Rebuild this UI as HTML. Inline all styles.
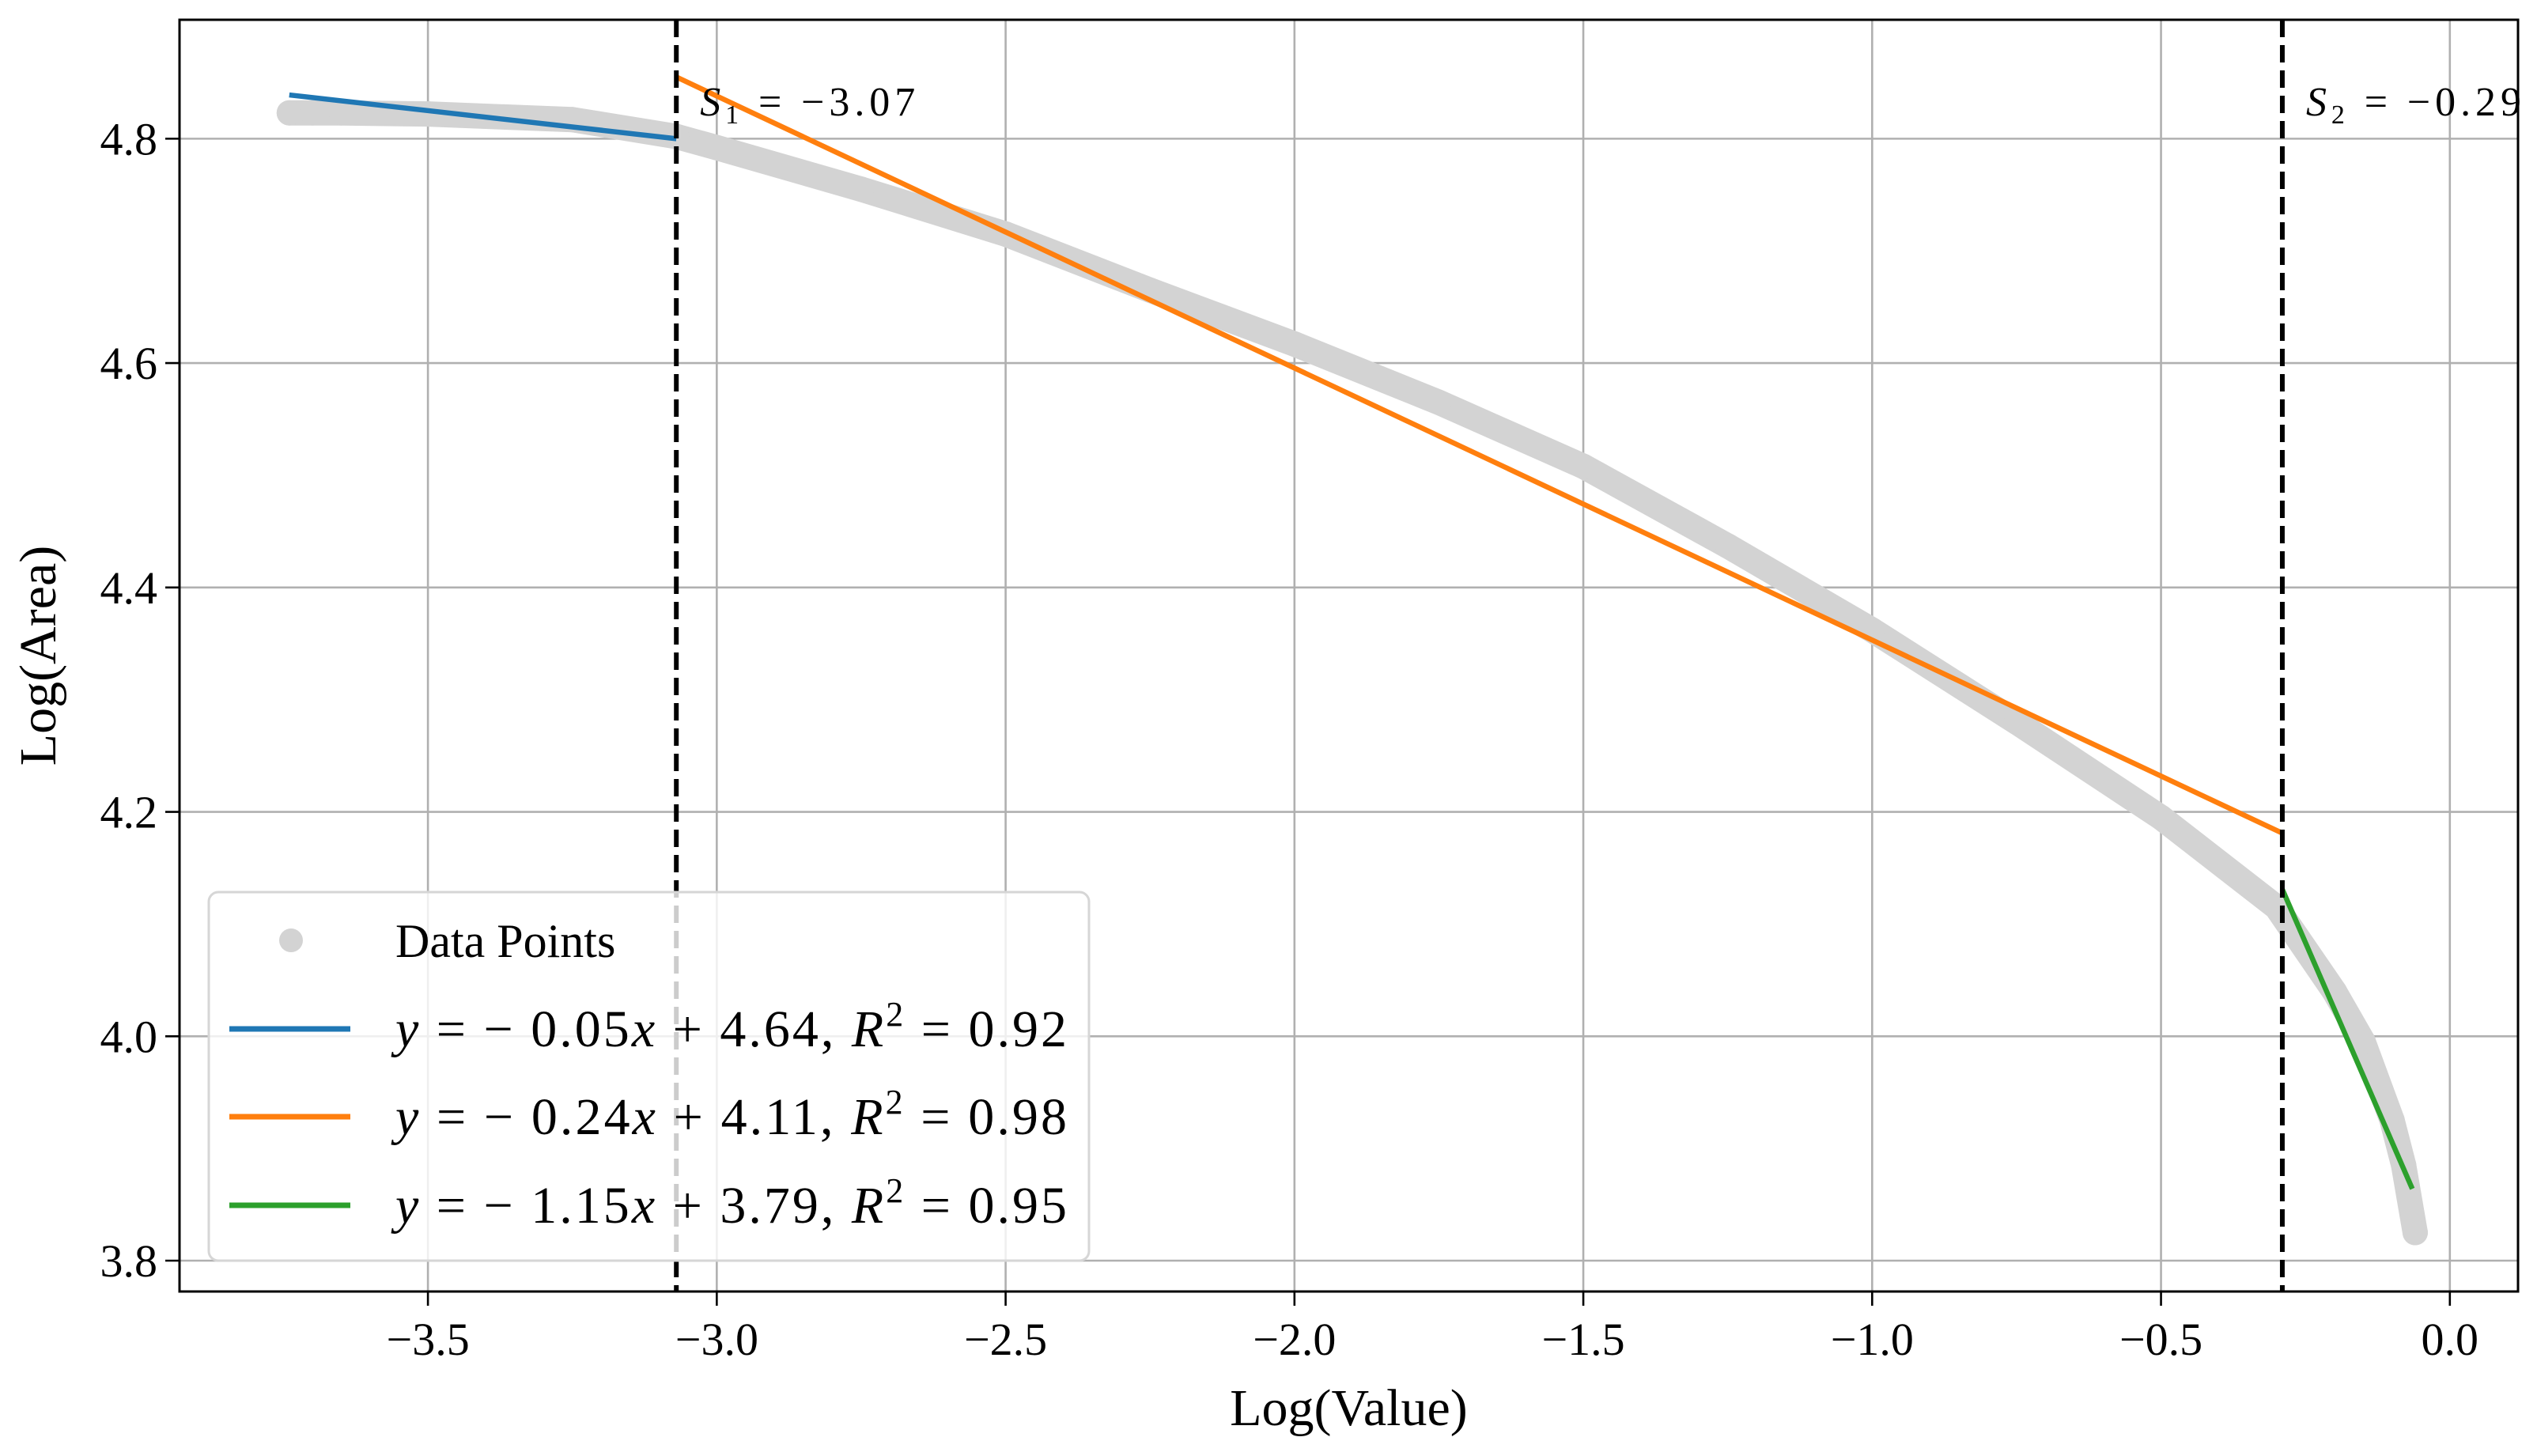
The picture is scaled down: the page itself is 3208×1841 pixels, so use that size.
<!DOCTYPE html>
<html><head><meta charset="utf-8"><style>
html,body{margin:0;padding:0;background:#fff}
svg{display:block}
text{font-family:"Liberation Serif",serif;fill:#000}
</style></head><body>
<svg id="chart" width="3208" height="1841" viewBox="0 0 3208 1841" xmlns="http://www.w3.org/2000/svg">
<rect width="3208" height="1841" fill="#fff"/>
<g id="grid"></g>
<g id="marks"></g>
<g id="axes"></g>
</svg>
<script>
const xTicks = [-3.5, -3.0, -2.5, -2.0, -1.5, -1.0, -0.5, 0.0];
const xTickLabels = ["\u22123.5","\u22123.0","\u22122.5","\u22122.0","\u22121.5","\u22121.0","\u22120.5","0.0"];
const yTicks = [3.8, 4.0, 4.2, 4.4, 4.6, 4.8];
const yTickLabels = ["3.8","4.0","4.2","4.4","4.6","4.8"];
const dataX = [-3.74,-3.7,-3.65,-3.5,-3.25,-3.07,-3.0,-2.75,-2.5,-2.25,-2.0,-1.75,-1.5,-1.25,-1.0,-0.75,-0.5,-0.3,-0.2,-0.15,-0.1,-0.08,-0.06];
const dataY = [4.823,4.823,4.823,4.822,4.817,4.802,4.792,4.755,4.715,4.665,4.617,4.565,4.508,4.437,4.362,4.28,4.195,4.115,4.04,3.995,3.925,3.885,3.825];
const fitBlueX = [-3.74, -3.07];
const fitBlueY = [4.839, 4.80];
const fitOrangeX = [-3.07, -0.29];
const fitOrangeY = [4.855, 4.181];
const fitGreenX = [-0.29, -0.065];
const fitGreenY = [4.131, 3.864];
const breakpoints = [-3.07, -0.29];
const breakpointLabels = ["1","2"];
const breakpointValues = ["\u22123.07","\u22120.29"];
const legendLabels = [
  {v:"0.05", b:"4.64", r:"0.92", c:"#1f77b4"},
  {v:"0.24", b:"4.11", r:"0.98", c:"#ff7f0e"},
  {v:"1.15", b:"3.79", r:"0.95", c:"#2ca02c"}
];

const L=227, R=3184, T=25, B=1633;
const xMin=-3.93, xMax=0.118, yMin=3.7725, yMax=4.906;
function sx(v){return L+(v-xMin)/(xMax-xMin)*(R-L);}
function sy(v){return B-(v-yMin)/(yMax-yMin)*(B-T);}
const NS="http://www.w3.org/2000/svg";
function mk(tag,attrs,parent){const e=document.createElementNS(NS,tag);for(const k in attrs)e.setAttribute(k,attrs[k]);parent.appendChild(e);return e;}
const grid=document.getElementById('grid'), marks=document.getElementById('marks'), axes=document.getElementById('axes');

xTicks.forEach((t,i)=>{
  const g=mk('line',{x1:sx(t),x2:sx(t),y1:T,y2:B,stroke:'#b0b0b0','stroke-width':2.6},grid);
  
  
  const tk=mk('line',{x1:sx(t),x2:sx(t),y1:B,y2:B+18,stroke:'#000','stroke-width':2.6},axes);
  
  
  const lb=mk('text',{x:sx(t),y:B+80,'font-size':58,'text-anchor':'middle'},axes);
  lb.textContent=xTickLabels[i];
  
  
});
yTicks.forEach((t,i)=>{
  const g=mk('line',{x1:L,x2:R,y1:sy(t),y2:sy(t),stroke:'#b0b0b0','stroke-width':2.6},grid);
  
  
  const tk=mk('line',{x1:L-18,x2:L,y1:sy(t),y2:sy(t),stroke:'#000','stroke-width':2.6},axes);
  
  
  const lb=mk('text',{x:L-28,y:sy(t)+20,'font-size':58,'text-anchor':'end'},axes);
  lb.textContent=yTickLabels[i];
  
  
});

let d='';
dataX.forEach((x,i)=>{d+=(i?'L':'M')+sx(x)+' '+sy(dataY[i]);});
const band=mk('path',{d:d,fill:'none',stroke:'#d3d3d3','stroke-width':32,'stroke-linecap':'round','stroke-linejoin':'round'},marks);


dataX.forEach((x,i)=>{
  const c=mk('circle',{cx:sx(x),cy:sy(dataY[i]),r:16,fill:'#d3d3d3'},marks);
  
  
});
function fit(xs,ys,color,name){
  const l=mk('line',{x1:sx(xs[0]),y1:sy(ys[0]),x2:sx(xs[1]),y2:sy(ys[1]),stroke:color,'stroke-width':6.5},marks);
  
  
}
fit(fitBlueX,fitBlueY,'#1f77b4','fit-line-segment-1');
fit(fitOrangeX,fitOrangeY,'#ff7f0e','fit-line-segment-2');
fit(fitGreenX,fitGreenY,'#2ca02c','fit-line-segment-3');

breakpoints.forEach((b,i)=>{
  const l=mk('line',{x1:sx(b),x2:sx(b),y1:T,y2:B,stroke:'#000','stroke-width':6,'stroke-dasharray':'22 10'},marks);
  
  
  const t=mk('text',{x:sx(b)+30,y:146,'font-size':52,textLength:272,lengthAdjust:'spacing'},marks);
  t.innerHTML='<tspan font-style="italic">S</tspan><tspan font-size="34" dy="10">'+breakpointLabels[i]+'</tspan><tspan dy="-10"> = '+breakpointValues[i]+'</tspan>';
  
  
});

const lg=mk('g',{},axes);


const box=mk('rect',{x:264,y:1128,width:1113,height:466,rx:12,fill:'rgba(255,255,255,0.8)',stroke:'#d6d6d6','stroke-width':3},lg);


const rowsY=[1189,1301,1412,1524];
const dp=mk('circle',{cx:368,cy:rowsY[0],r:15,fill:'#d3d3d3'},lg);


const dpt=mk('text',{x:500,y:rowsY[0]+21,'font-size':60},lg);
dpt.textContent='Data Points';


legendLabels.forEach((e,i)=>{
  const y=rowsY[i+1];
  const ln=mk('line',{x1:290,x2:443,y1:y,y2:y,stroke:e.c,'stroke-width':7},lg);
  
  
  const t=mk('text',{x:500,y:y+22,'font-size':66,textLength:849,lengthAdjust:'spacing'},lg);
  t.innerHTML='<tspan font-style="italic">y</tspan> = \u2212 '+e.v+'<tspan font-style="italic">x</tspan> + '+e.b+', <tspan font-style="italic">R</tspan><tspan font-size="44" dy="-26">2</tspan><tspan dy="26"> = '+e.r+'</tspan>';
  
  
});

const frame=mk('rect',{x:L,y:T,width:R-L,height:B-T,fill:'none',stroke:'#000','stroke-width':3},axes);


const xl=mk('text',{x:(L+R)/2,y:1802,'font-size':66,'text-anchor':'middle'},axes);
xl.textContent='Log(Value)';


const yl=mk('text',{x:0,y:0,'font-size':66,'text-anchor':'middle',transform:'translate(70,829) rotate(-90)'},axes);
yl.textContent='Log(Area)';


</script>
</body></html>
